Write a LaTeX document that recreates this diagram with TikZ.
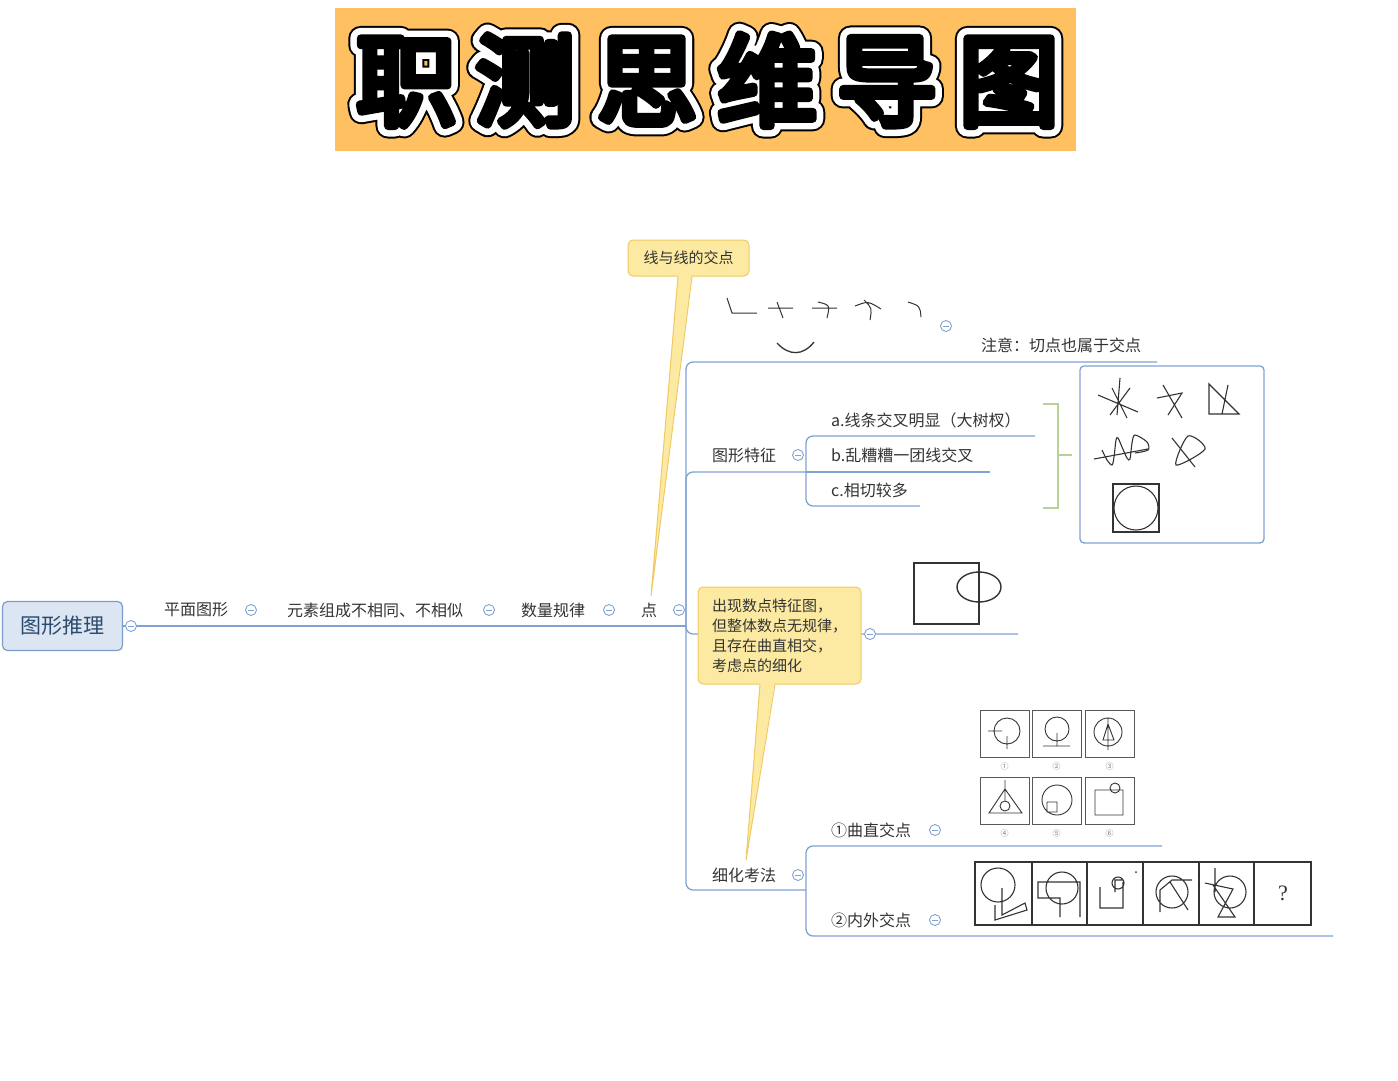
\documentclass[tikz,border=0pt]{standalone}
\usepackage{fontspec}
\setmainfont{Noto Sans CJK SC}
\newfontfamily\titlecore{Noto Sans CJK SC}[FakeBold=8]
\newfontfamily\titlehalo{Noto Sans CJK SC}[FakeBold=21]
\newfontfamily\titleedge{Noto Sans CJK SC}[FakeBold=25]
\newfontfamily\qfont{Liberation Serif}

\definecolor{titlebg}{HTML}{FFC062}
\definecolor{linec}{HTML}{7FA2D3}
\definecolor{rootfill}{HTML}{DCE6F2}
\definecolor{rootline}{HTML}{7B9BC8}
\definecolor{roottext}{HTML}{2C4A6E}
\definecolor{callfill}{HTML}{FCEAA2}
\definecolor{callline}{HTML}{F1C962}
\definecolor{brack}{HTML}{B9D096}
\definecolor{inkc}{HTML}{333333}
\definecolor{textc}{HTML}{333333}

\begin{document}
\begin{tikzpicture}[x=1pt,y=-1pt,
  branch/.style={draw=linec,line width=1.3pt,rounded corners=7pt},
  lbl/.style={inner sep=0pt,text=textc,font=\fontsize{16}{18}\selectfont},
  fold/.style={circle,draw=linec,fill=white,line width=0.9pt,inner sep=0pt,minimum size=11pt,
    path picture={\draw[linec,line width=0.8pt] ([xshift=-2.6pt]path picture bounding box.center) -- ([xshift=2.6pt]path picture bounding box.center);}},
  root/.style={draw=rootline,fill=rootfill,line width=1.2pt,rounded corners=5pt,minimum width=120pt,minimum height=49pt,text=roottext,font=\fontsize{21}{24}\selectfont},
  notebox/.style={draw=callline,fill=callfill,line width=1pt,rounded corners=5pt,text=textc,inner sep=0pt},
  ink/.style={draw=inkc,line width=1.1pt},
  panel/.style={draw=gray!70!black,line width=1pt},
  plab/.style={inner sep=0pt,text=gray,font=\fontsize{8}{9}\selectfont},
  titlech/.style={anchor=base,inner sep=0pt,line join=round}]
\useasboundingbox (0,0) rectangle (1398,1080);

% title
\fill[titlebg] (335,8) rectangle (1076,151);
\foreach \ch/\xx [count=\i] in {职/406,测/525,思/647,维/767,导/887,图/1009}{
  \node[titlech,text=black,font=\titleedge\fontsize{100}{100}\selectfont] (te\i) at (\xx,118) {\ch};
  \node[titlech,text=white,font=\titlehalo\fontsize{100}{100}\selectfont] (th\i) at (\xx,118) {\ch};
  \node[titlech,text=black,font=\titlecore\fontsize{100}{100}\selectfont] (tc\i) at (\xx,118) {\ch};
}

% branches
\node[root] (root) at (62.5,626) {图形推理};
\coordinate (j0) at (686,626);
\coordinate (j1) at (806,472);
\coordinate (j2) at (806,890);
\draw[branch] (root.east) -- (j0);
\draw[branch] (j0) -- (686,362) -- (1157,362);
\draw[branch] (j0) -- (686,472) -- (j1);
\draw[branch] (j0) -- (686,634) -- (1018,634);
\draw[branch] (j0) -- (686,890) -- (j2);
\draw[branch] (j1) -- (806,436) -- (1035,436);
\draw[branch] (j1) -- (990,472);
\draw[branch] (j1) -- (806,506) -- (920,506);
\draw[branch] (j2) -- (806,846) -- (1162,846);
\draw[branch] (j2) -- (806,936) -- (1333,936);

% labels
\node[lbl] (pm) at (196,610) {平面图形};
\node[lbl] (ys) at (375,610) {元素组成不相同、不相似};
\node[lbl] (sl) at (553,610) {数量规律};
\node[lbl] (dian) at (649,610) {点};
\node[lbl] (zy) at (1061,345) {注意：切点也属于交点};
\node[lbl] (tx) at (744,455) {图形特征};
\node[lbl,anchor=west] (ta) at (831,420) {a.线条交叉明显（大树杈）};
\node[lbl,anchor=west] (tb) at (831,455) {b.乱糟糟一团线交叉};
\node[lbl,anchor=west] (tcc) at (831,490) {c.相切较多};
\node[lbl] (xh) at (744,875) {细化考法};
\node[lbl,anchor=west] (qz) at (831,830) {①曲直交点};
\node[lbl,anchor=west] (nw) at (831,920) {②内外交点};

% folds
\node[fold] (f0) at (131,626) {};
\node[fold] (f1) at (251,610) {};
\node[fold] (f2) at (489,610) {};
\node[fold] (f3) at (609,610) {};
\node[fold] (f4) at (679,610) {};
\node[fold] (f5) at (946,326) {};
\node[fold] (f6) at (798,455) {};
\node[fold] (f7) at (870,634) {};
\node[fold] (f8) at (798,875) {};
\node[fold] (f9) at (935,830) {};
\node[fold] (f10) at (935,920) {};

% callouts
\node[notebox,minimum width=121pt,minimum height=36pt,font=\fontsize{15}{18}\selectfont] (c1) at (688.5,258) {线与线的交点};
\fill[callfill] (678,272) -- (651,596) -- (692,272) -- cycle;
\draw[callline,line width=1pt] (678,276.5) -- (651,596) -- (692,276.5);
\node[notebox,minimum width=163pt,minimum height=97pt,align=left,font=\fontsize{15}{20}\selectfont] (c2) at (779.5,635.5) {出现数点特征图，\\但整体数点无规律，\\且存在曲直相交，\\考虑点的细化};
\fill[callfill] (760,680) -- (746,860) -- (775,680) -- cycle;
\draw[callline,line width=1pt] (760,684.5) -- (746,860) -- (775,684.5);

% line crossings
\draw[ink,line width=1pt] (727,298) -- (732,313) -- (757,313);
\draw[ink,line width=1pt] (768,308) -- (793,308) (777,302) -- (783,318);
\draw[ink,line width=1pt] (812,308) -- (837,308) (818,302) .. controls (830,305) .. (827,318);
\draw[ink,line width=1pt] (855,306) .. controls (868,301) .. (881,309) (864,300) .. controls (872,308) .. (870,320);
\draw[ink,line width=1pt] (908,302) .. controls (920,306) .. (921,317);
\draw[ink,line width=1.3pt] (777,343) .. controls (789,356) and (803,356) .. (814,342);

% feature box
\draw[brack,line width=1.3pt] (1043,404) -- (1058,404) -- (1058,508) -- (1043,508) (1058,455) -- (1072,455);
\draw[linec,line width=1.3pt,rounded corners=4pt] (1080,366) rectangle (1264,543);
\draw[ink] (1098,395) -- (1138,412) (1120,378) -- (1117,415) (1110,415) -- (1130,388) (1112,388) -- (1127,418);
\draw[ink] (1157,398) -- (1182,393) -- (1168,415) (1163,385) -- (1182,418);
\draw[ink] (1209,384) -- (1209,414) -- (1239,414) -- cycle (1228,385) -- (1222,414);
\draw[ink] (1094,459) -- (1148,449);
\draw[ink] plot[smooth] coordinates {(1102,450) (1107,460) (1112,465) (1114,457) (1116,440) (1118,438) (1122,447) (1127,458) (1130,459) (1132,443) (1135,435) (1147,442) (1148,450) (1135,453)};
\draw[ink] plot[smooth cycle] coordinates {(1188,436) (1205,449) (1176,465)};
\draw[ink] (1172,438) -- (1195,467);
\draw[ink] (1113,484) rectangle (1159,532);
\draw[ink] (1136,508) circle[radius=22];

% square and ellipse
\draw[ink,line width=1.4pt] (914,563) rectangle (979,624);
\draw[ink,line width=1.4pt] (979,587) ellipse[x radius=22,y radius=15];

% six small panels
\foreach \px/\py/\nm in {980/710/①,1032/710/②,1085/710/③,980/777/④,1032/777/⑤,1085/777/⑥}{
  \draw[panel] (\px,\py) rectangle ++(49,47);
  \node[plab] (p\nm) at (\px+24.5,\py+56) {\nm};
}
\draw[ink,line width=0.9pt] (1007,731) circle[radius=13] (988,731) -- (1002,731) (1007,736) -- (1007,749);
\draw[ink,line width=0.9pt] (1057,729) circle[radius=12] (1043,746) -- (1070,746) (1057,733) -- (1057,746);
\draw[ink,line width=0.9pt] (1108,732) circle[radius=14] (1108,724) -- (1103,740) -- (1114,740) -- cycle (1108,718) -- (1108,750);
\draw[ink,line width=0.9pt] (1005,789) -- (989,813) -- (1022,813) -- cycle (1005,780) -- (1005,800) (1005,806) circle[radius=5];
\draw[ink,line width=0.9pt] (1057,800) circle[radius=15] (1047,802) rectangle (1057,812);
\draw[ink,line width=0.9pt] (1095,790) rectangle (1123,815) (1115,788) circle[radius=5];

% strip of six
\draw[ink,line width=1.3pt] (975,862) rectangle (1311,925);
\foreach \dx in {1032,1087,1143,1199,1254}{
  \draw[ink,line width=1.3pt] (\dx,862) -- (\dx,925);
}
\draw[ink] (998,885) circle[radius=17] (1002,888) -- (1002,915) -- (1025,903) -- (1027,910) -- (995,920) -- (995,905);
\draw[ink] (1062,888) circle[radius=16] (1060,917) -- (1060,898) -- (1038,898) -- (1038,882) -- (1080,882) -- (1080,917);
\draw[ink] (1118,883) circle[radius=6] (1100,887) -- (1100,908) -- (1123,908) -- (1123,882) (1115,892) -- (1115,880) -- (1123,880);
\fill[inkc] (1136,872) circle[radius=1];
\draw[ink] (1172,892) circle[radius=16] (1160,912) -- (1160,890) -- (1172,880) -- (1192,880) (1170,882) -- (1188,910);
\draw[ink] (1230,892) circle[radius=16] (1215,868) -- (1215,892) (1205,883) -- (1233,889) -- (1218,917) -- (1235,917) -- (1213,885);
\node[inner sep=0pt,text=inkc,font=\qfont\fontsize{22}{24}\selectfont] (qm) at (1283,893) {?};
\end{tikzpicture}
\end{document}
